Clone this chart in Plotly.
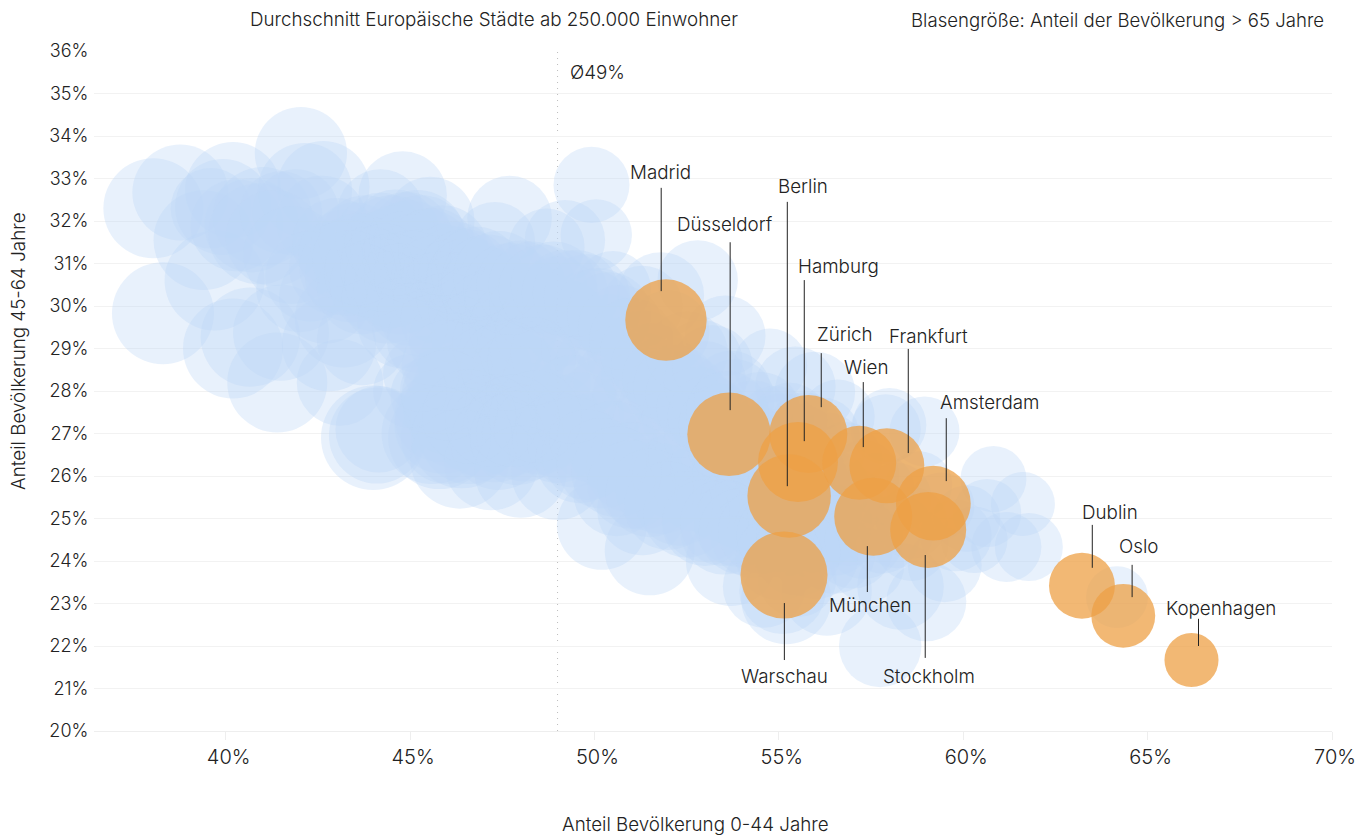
import plotly.graph_objects as go

# Highlighted cities
city_names = ["Madrid", "Düsseldorf", "Zürich", "Hamburg", "Berlin", "Wien", "Frankfurt",
              "München", "Amsterdam", "Stockholm", "Warschau", "Dublin", "Oslo", "Kopenhagen"]
city_young = [51.94, 53.65, 55.80, 55.52, 55.28, 57.18, 57.93, 57.56, 59.19, 59.05, 55.14, 63.22, 64.34, 66.19]
city_middle = [29.67, 26.98, 26.99, 26.33, 25.53, 26.31, 26.24, 25.04, 25.36, 24.73, 23.67, 23.42, 22.71, 21.67]
city_senior = [19.5, 20.5, 17.9, 18.8, 20.5, 16.1, 16.5, 17.9, 16.4, 17.0, 22.3, 12.8, 12.0, 8.6]

# Leader lines and label anchors, axis values
leader_x = [51.81, 53.68, 56.15, 55.69, 55.23, 57.29, 58.51, 57.40, 59.54, 58.97, 55.15, 63.50, 64.58, 66.38]
leader_y0 = [32.78, 31.50, 28.89, 30.61, 32.45, 28.21, 28.99, 24.35, 27.36, 24.14, 23.01, 24.85, 23.91, 22.64]
leader_y1 = [30.35, 27.55, 27.62, 26.82, 25.76, 26.68, 26.54, 23.27, 25.88, 21.72, 21.67, 23.84, 23.15, 22.00]
label_x = [51.78, 53.55, 56.80, 56.61, 55.66, 57.37, 59.05, 57.48, 60.73, 59.08, 55.15, 63.97, 64.75, 67.00]
label_y = [33.15, 31.91, 29.34, 30.94, 32.82, 28.56, 29.29, 22.96, 27.72, 21.29, 21.29, 25.13, 24.35, 22.89]

# All other cities
other = [
    (38.04,32.3,29.4),(38.77,32.67,27),(40.2,32.73,27),(42.04,33.6,25),(42.65,32.8,25),(44.8,32.6,23),(45.55,32.0,23),(47.7,32.07,21),(47.3,31.5,19),(38.3,29.83,30.6),
    (39.4,31.55,29.4),(39.7,30.6,29.4),(40.2,29.0,29.4),(40.67,29.27,29),(41.4,28.2,29.4),(41.5,29.37,27),(43.1,28.2,22),(44.0,26.9,32),(44.15,27.1,22),(44.1,26.95,27),
    (39.93,32.33,27),(39.6,32.3,19),(40.7,31.9,26),(41.0,32.1,29),(40.3,31.9,25),(40.9,31.7,30),(41.9,32.2,22),(42.15,32.73,26),(41.5,32.2,20),(42.6,32.0,24),
    (41.3,31.6,27),(41.8,31.2,28),(42.3,30.7,24),(42.0,30.4,22),(42.7,30.2,25),(43.0,30.9,26),(43.2,29.7,28),(42.8,29.1,26),(43.7,29.2,24),(44.2,32.2,22),
    (43.2,31.2,24),(43.5,31.4,23),(43.8,31.5,26),(44.0,31.0,27),(44.2,31.6,24),(44.4,31.2,25),(44.6,31.7,23),(44.8,30.8,26),(45.0,31.4,25),(45.2,31.6,27),
    (43.4,30.7,25),(43.7,30.4,24),(44.1,30.5,26),(44.4,30.2,25),(44.7,30.4,24),(45.0,30.1,23),(45.3,30.7,26),(45.5,31.2,24),(45.7,30.6,24),(45.9,30.9,22),
    (43.0,31.5,23),(43.3,30.9,27),(43.6,31.1,25),(43.9,30.8,24),(44.3,30.9,23),(44.6,31.3,24),(45.1,31.1,24),(45.4,29.9,26),(45.8,30.2,25),(46.1,30.5,24),
    (45.0,30.7,25),(44.9,31.2,23),(44.5,30.6,26),(46.2,30.9,20),(46.4,30.2,24),(46.6,30.6,22),(46.0,29.7,25),(46.7,29.9,23),(47.0,30.4,22),(47.2,29.8,24),
    (46.2,29.2,24),(46.5,28.6,26),(46.8,29.3,24),(46.3,28.0,25),(46.9,27.8,27),(47.1,28.5,23),(47.4,29.1,25),(47.6,30.1,20),(47.8,29.5,23),(47.5,27.7,24),
    (47.9,28.3,25),(48.1,29.0,24),(48.3,30.0,21),(48.5,29.4,23),(48.2,27.6,24),(48.7,28.2,23),(48.9,28.9,22),(49.0,30.2,20),(49.2,29.6,22),(48.9,27.3,26),
    (45.9,27.2,28),(46.0,26.9,25),(46.3,27.3,27),(46.6,27.0,30),(46.9,27.1,26),(47.3,27.0,28),(47.7,27.1,26),(48.1,27.0,27),(48.5,27.1,24),(49.1,27.0,24),
    (45.6,27.0,30),(45.8,27.4,24),(46.1,27.6,26),(45.9,28.0,22),(45.5,27.9,17),(45.3,28.4,17),(45.0,28.0,16),(47.4,26.8,27),(46.4,26.9,30),(47.9,26.9,26),
    (45.8,26.9,31),(46.35,26.4,29),(47.2,26.3,26),(48.0,26.1,25),(49.0,26.05,25),(49.6,26.4,23),(50.2,24.85,23.8),(51.5,24.25,23.8),(50.6,25.6,22),(51.3,25.2,24),
    (49.5,28.3,22),(49.7,29.0,21),(49.9,29.9,20),(50.1,28.6,22),(50.2,27.7,23),(50.4,29.3,20),(50.6,28.2,22),(50.8,27.3,23),(49.6,27.4,23),(50.0,26.9,24),
    (50.9,28.8,19),(51.1,27.9,21),(51.3,28.4,20),(51.4,27.0,22),(51.6,26.5,23),(51.8,27.6,21),(52.0,28.0,20),(52.2,26.9,21),(52.4,27.4,20),(50.5,26.7,24),
    (51.0,26.2,24),(51.3,25.8,24),(51.8,25.7,24),(52.2,26.0,22),(52.6,26.5,21),(52.8,25.7,22),(53.0,26.9,20),(53.2,26.2,21),(53.4,25.5,22),(52.3,25.4,23),
    (53.6,26.8,20),(53.8,26.0,21),(54.0,25.3,22),(54.2,26.5,19),(54.4,25.7,20),(54.6,25.0,22),(54.8,26.2,18),(55.0,25.5,19),(55.2,24.8,20),(53.0,25.0,22),
    (53.5,24.7,22),(53.9,24.9,23),(54.3,24.6,21),(54.9,24.7,20),(55.4,24.9,20),(55.7,25.6,18),(55.9,24.9,19),(56.2,25.2,18),(56.5,24.9,17),(56.8,25.4,17),
    (52.8,30.6,19),(51.8,30.25,22),(53.55,29.3,19),(54.77,28.6,16),(55.45,28.1,19),(55.98,27.98,19),(56.6,27.4,16),(57.9,27.1,14.4),(58.0,27.2,16),(58.95,27.05,14.4),
    (49.92,32.85,17),(50.05,31.67,15),(49.2,31.55,19),(48.7,31.4,17),(50.5,30.4,17),(51.3,30.0,19),(52.0,29.4,20),(52.9,28.7,20),(53.7,28.0,19),(54.5,27.5,19),
    (55.1,27.0,19),(55.6,26.8,17),(56.3,26.6,17),(56.8,26.4,16),(57.3,26.0,15),(57.7,25.7,15),(58.2,25.5,14),(58.8,25.8,13),(59.4,25.3,13),(60.1,25.0,13),
    (53.7,24.0,23.8),(55.2,23.1,23.8),(56.3,23.3,23.8),(57.75,22.0,20),(58.3,23.4,22),(59.0,23.05,18.8),(54.6,23.4,20),(55.1,23.3,22),(55.5,23.6,18),(57.4,23.9,16),
    (60.82,25.93,12.8),(61.62,25.34,12),(61.78,24.33,13.6),(61.17,24.33,14.4),(60.65,25.13,13.6),(64.17,23.15,11.3),(58.6,24.4,16),(59.8,24.6,15),(59.5,23.9,16),(60.3,24.5,13),
    (44.5,31.5,26),(44.9,31.6,25),(45.3,31.5,26),(45.6,31.2,26),(45.9,31.3,24),(46.2,30.9,25),(46.5,30.7,26),(46.8,30.8,24),(47.1,30.6,25),(47.4,30.7,24),
    (47.7,30.4,25),(48.0,30.5,23),(48.3,30.5,22),(48.6,30.4,23),(48.9,30.5,22),(49.2,30.3,22),(49.5,30.3,22),(49.8,30.2,22),(50.1,29.9,21),(50.4,29.8,21),
    (50.7,29.5,21),(51.0,29.2,21),(51.3,28.9,21),(51.6,28.6,21),(51.9,28.3,21),(52.2,28.1,21),(52.5,27.9,20),(52.8,27.6,20),(53.1,27.4,20),(53.4,27.2,20),
    (53.7,27.0,20),(54.0,26.9,20),(54.3,26.7,19),(54.6,26.5,19),(54.9,26.4,19),(55.2,26.3,19),(55.5,26.1,18),(55.8,26.0,18),(56.1,25.8,18),(56.4,25.7,18),
    (49.0,26.9,24),(49.4,26.8,24),(49.8,26.5,24),(50.2,26.3,24),(50.6,26.1,24),(51.0,25.8,23),(51.5,25.6,23),(52.0,25.3,23),(52.5,25.1,22),(53.0,24.9,22),
    (53.5,24.9,22),(54.0,24.7,22),(54.5,24.7,21),(55.0,24.6,21),(55.5,24.6,20),(56.0,24.7,20),(56.5,24.6,19),(57.0,24.9,18),(47.6,28.6,24),(48.3,28.7,23),
    (44.8,29.6,24),(45.2,29.5,24),(45.6,29.2,24),(46.0,28.6,24),(46.0,27.9,24),(46.6,27.4,26),(47.2,27.3,25),(47.8,27.3,25),(48.4,27.4,25),(49.4,27.8,23),
    (53.2,28.6,19),(53.8,27.8,19),(54.3,27.3,19),(54.9,27.2,18),(55.3,27.3,17),(55.7,27.1,16),(56.2,27.0,15),(52.5,28.9,20),(53.0,28.2,20),(53.6,27.5,20),
    (56.9,24.8,18),(57.3,24.5,18),(57.8,24.6,17),(58.2,24.7,16),(58.6,24.9,15),(57.0,24.3,19),(56.5,24.2,20),(56.0,24.1,21),(55.5,24.2,22),(55.0,24.1,22),
]
other_young = [p[0] for p in other]
other_middle = [p[1] for p in other]
other_senior = [p[2] for p in other]

x_ticks = [40, 45, 50, 55, 60, 65, 70]
y_ticks = list(range(20, 37))
average = 49

FONT = "Inter, 'Open Sans', sans-serif"
INK = "#222222"
SIZEREF = 1 / 170
TEXT = dict(size=18.8, color=INK, family=FONT, weight=300)

fig = go.Figure()
fig.add_trace(go.Scatter(
    x=other_young, y=other_middle, mode="markers", hoverinfo="skip",
    marker=dict(size=other_senior, sizemode="area", sizeref=SIZEREF, opacity=1,
                color="rgba(190,215,245,0.35)", line=dict(width=0)),
))
fig.add_trace(go.Scatter(
    x=city_young, y=city_middle, mode="markers", text=city_names, hoverinfo="text",
    marker=dict(size=city_senior, sizemode="area", sizeref=SIZEREF, opacity=1,
                color="rgba(238,160,70,0.75)", line=dict(width=0)),
))

fig.add_shape(type="line", x0=average, x1=average, y0=20, y1=36, layer="below",
              line=dict(color="#bdbdbd", width=1, dash="1px,5px"))
for lx, y0, y1 in zip(leader_x, leader_y0, leader_y1):
    fig.add_shape(type="line", x0=lx, x1=lx, y0=y0, y1=y1, layer="above",
                  line=dict(color="#222222", width=1))

for name, x, y in zip(city_names, label_x, label_y):
    fig.add_annotation(x=x, y=y, text=name, showarrow=False, xanchor="center", yanchor="middle", font=TEXT)
fig.add_annotation(x=49.29, y=35.5, text="Ø49%", showarrow=False, xanchor="left", yanchor="middle", font=TEXT)
fig.add_annotation(xref="paper", yref="paper", x=0.3235, y=1.0456, text="Durchschnitt Europäische Städte ab 250.000 Einwohner",
                   showarrow=False, xanchor="center", yanchor="middle", font=TEXT)
fig.add_annotation(xref="paper", yref="paper", x=0.9952, y=1.0456, text="Blasengröße: Anteil der Bevölkerung > 65 Jahre",
                   showarrow=False, xanchor="right", yanchor="middle", font=dict(size=18.6, color=INK, family=FONT, weight=300))
fig.add_annotation(xref="paper", yref="paper", x=0.4855, y=-0.1368, text="Anteil Bevölkerung 0-44 Jahre",
                   showarrow=False, xanchor="center", yanchor="middle", font=TEXT)
fig.add_annotation(xref="paper", yref="paper", x=-0.0615, y=0.5588, text="Anteil Bevölkerung 45-64 Jahre", textangle=-90,
                   showarrow=False, xanchor="center", yanchor="middle", font=TEXT)

fig.update_layout(
    width=1362, height=836, showlegend=False, paper_bgcolor="white", plot_bgcolor="white",
    margin=dict(l=94, r=30, t=51, b=105),
    font=dict(family=FONT, color=INK),
    xaxis=dict(range=[36.43, 70], tickvals=x_ticks, ticktext=[f"{v}%" for v in x_ticks],
               automargin=False, showgrid=False, zeroline=False, showline=True, linecolor="#eeeeee", linewidth=1,
               ticks="outside", ticklen=8, tickcolor="#eeeeee",
               tickfont=dict(size=20, color=INK, family=FONT, weight=300), ticklabelshift=3),
    yaxis=dict(range=[20, 36], tickvals=y_ticks, ticktext=[f"{v}%" for v in y_ticks],
               automargin=False, showgrid=True, gridcolor="#f2f2f2", gridwidth=1, zeroline=False, showline=False,
               ticks="outside", ticklen=1, tickcolor="white",
               tickfont=dict(size=18, color=INK, family=FONT, weight=300)),
)
fig.write_html("out.html", config={"displayModeBar": False}, post_script="document.body.style.margin='0';")
